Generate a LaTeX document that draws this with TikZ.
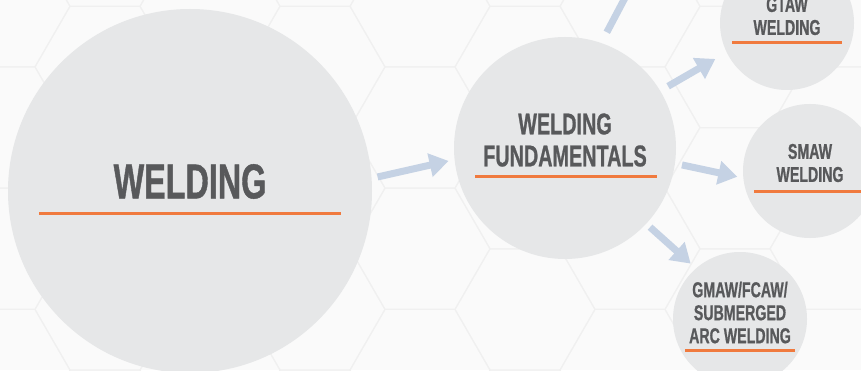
\documentclass[tikz,border=0pt]{standalone}
\usepackage{fontspec}
\usetikzlibrary{arrows.meta}
\newfontfamily\headfont{Liberation Sans Bold}[FakeStretch=0.66, FakeBold=0.8]

\definecolor{bubblegray}{HTML}{E6E7E8}
\definecolor{inkgray}{HTML}{58595B}
\definecolor{weldorange}{HTML}{F07A3E}
\definecolor{flowblue}{HTML}{C5D2E4}
\definecolor{paper}{HTML}{FAFAFA}
\definecolor{hexline}{HTML}{F0F0F0}

\tikzstyle{bubble} = [circle, inner sep=0pt, fill=bubblegray, draw=none]
\tikzstyle{bigtitle} = [text=inkgray, align=center, inner sep=0pt, font=\headfont\fontsize{49}{52}\selectfont]
\tikzstyle{midtitle} = [text=inkgray, align=center, inner sep=0pt, font=\headfont\fontsize{30}{32}\selectfont]
\tikzstyle{smalltitle} = [text=inkgray, align=center, inner sep=0pt, font=\headfont\fontsize{21.5}{23}\selectfont]
\tikzstyle{uline} = [line width=3pt, weldorange]
\tikzstyle{flow} = [line width=7pt, flowblue, ->, >={Triangle[width=23pt,length=19pt]}]

\begin{document}
\begin{tikzpicture}[x=1pt, y=1pt, node distance=222pt]
      \useasboundingbox (0,0) rectangle (861,370);
      \fill [paper] (0,0) rectangle (861,370);
      % faint hexagon floor
      \begin{scope}
        \clip (0,0) rectangle (861,370);
        \foreach \col in {0,...,9} {
          \foreach \row in {-1,...,4} {
            \pgfmathsetmacro{\hx}{105*\col}
            \pgfmathsetmacro{\hy}{121.24*\row + 60.62*mod(\col,2)}
            \draw [hexline, line width=1pt] (\hx,\hy) +(0:70) -- +(60:70) -- +(120:70) -- +(180:70) -- +(240:70) -- +(300:70) -- cycle;
          }
        }
      \end{scope}

      \node (weld) [bubble, minimum size=364pt] at (190,179) {};
      \node (fund) [bubble, minimum size=222pt, right of=weld, xshift=153pt, yshift=43pt] {};
      \node (gtaw) [bubble, minimum size=134pt, right of=fund, yshift=125pt] {};
      \node (smaw) [bubble, minimum size=134pt, right of=fund, xshift=23pt, yshift=-23pt] {};
      \node (gmaw) [bubble, minimum size=134pt, below of=fund, xshift=175pt, yshift=51pt] {};
      \coordinate (offtop) at (636,393);

      \node (weldtxt) [bigtitle] at ([yshift=9.5pt]weld.center) {WELDING};
      \node (fundtxt) [midtitle] at ([yshift=8pt]fund.center) {WELDING\\FUNDAMENTALS};
      \node (gtawtxt) [smalltitle] at ([yshift=7pt]gtaw.center) {GTAW\\WELDING};
      \node (smawtxt) [smalltitle] at ([yshift=8pt]smaw.center) {SMAW\\WELDING};
      \node (gmawtxt) [smalltitle] at ([yshift=6.5pt]gmaw.center) {GMAW/FCAW/\\SUBMERGED\\ARC WELDING};

      \draw [uline] ([xshift=-151pt,yshift=-22pt]weld.center) -- ([xshift=151pt,yshift=-22pt]weld.center);
      \draw [uline] ([xshift=-90pt,yshift=-28pt]fund.center) -- ([xshift=92pt,yshift=-28pt]fund.center);
      \draw [uline] ([xshift=-55pt,yshift=-20pt]gtaw.center) -- ([xshift=55pt,yshift=-20pt]gtaw.center);
      \draw [uline] ([xshift=-56pt,yshift=-20pt]smaw.center) -- ([xshift=56pt,yshift=-20pt]smaw.center);
      \draw [uline] ([xshift=-55pt,yshift=-31pt]gmaw.center) -- ([xshift=55pt,yshift=-31pt]gmaw.center);

      \draw [flow, shorten <=6pt, shorten >=6pt] (weld.4) -- (fund.186);
      \draw [flow, shorten <=12pt] (fund.71) -- (offtop);
      \draw [flow, shorten <=9pt, shorten >=13pt] (fund.31) -- (gtaw.206);
      \draw [flow, shorten <=7pt, shorten >=6pt] (fund.-8) -- (smaw.186);
      \draw [flow, shorten <=5pt, shorten >=7pt] (fund.-43) -- (gmaw.131);
\end{tikzpicture}
\end{document}
